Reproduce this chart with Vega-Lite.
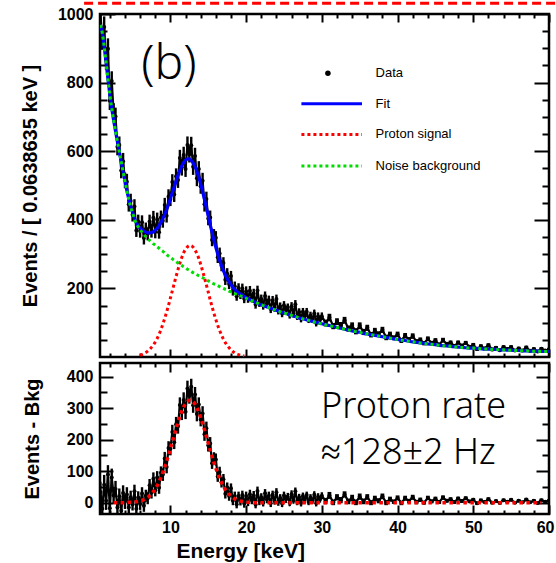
{
"$schema":"https://vega.github.io/schema/vega-lite/v6.json",
"padding":{"left":18,"top":0,"right":0,"bottom":0},
"spacing":0,
"datasets":{"h":[
{"e":0.75,"n":1002,"s":32,"d":34,"b":968,"g":0,"f":968},
{"e":1,"n":926,"s":30,"d":-19,"b":945,"g":0,"f":945},
{"e":1.25,"n":962,"s":31,"d":57,"b":905,"g":0,"f":905},
{"e":1.5,"n":866,"s":29,"d":6,"b":860,"g":0,"f":860},
{"e":1.75,"n":899,"s":30,"d":89,"b":810,"g":0,"f":810},
{"e":2,"n":747,"s":27,"d":-18,"b":765,"g":0,"f":765},
{"e":2.25,"n":805,"s":28,"d":80,"b":725,"g":0,"f":725},
{"e":2.5,"n":713,"s":27,"d":23,"b":690,"g":0,"f":690},
{"e":2.75,"n":701,"s":26,"d":43,"b":658,"g":0,"f":658},
{"e":3,"n":613,"s":25,"d":-15,"b":628,"g":0,"f":628},
{"e":3.25,"n":618,"s":25,"d":20,"b":598,"g":0,"f":598},
{"e":3.5,"n":544,"s":23,"d":-26,"b":570,"g":0,"f":570},
{"e":3.75,"n":571,"s":24,"d":31,"b":540,"g":0,"f":540},
{"e":4,"n":515,"s":23,"d":3,"b":512,"g":0,"f":512},
{"e":4.25,"n":511,"s":23,"d":26,"b":485,"g":0,"f":485},
{"e":4.5,"n":445,"s":21,"d":-15,"b":460,"g":1,"f":461},
{"e":4.75,"n":455,"s":21,"d":17,"b":438,"g":1,"f":439},
{"e":5,"n":415,"s":20,"d":-5,"b":420,"g":1,"f":421},
{"e":5.25,"n":439,"s":21,"d":36,"b":403,"g":2,"f":405},
{"e":5.5,"n":369,"s":19,"d":-19,"b":388,"g":3,"f":391},
{"e":5.75,"n":395,"s":20,"d":16,"b":379,"g":4,"f":383},
{"e":6,"n":367,"s":19,"d":-4,"b":371,"g":5,"f":376},
{"e":6.25,"n":393,"s":20,"d":29,"b":364,"g":7,"f":371},
{"e":6.5,"n":347,"s":19,"d":-10,"b":357,"g":10,"f":367},
{"e":6.75,"n":373,"s":19,"d":22,"b":351,"g":13,"f":364},
{"e":7,"n":359,"s":19,"d":14,"b":345,"g":17,"f":362},
{"e":7.25,"n":395,"s":20,"d":55,"b":340,"g":22,"f":362},
{"e":7.5,"n":367,"s":19,"d":32,"b":335,"g":28,"f":363},
{"e":7.75,"n":406,"s":20,"d":76,"b":330,"g":35,"f":365},
{"e":8,"n":365,"s":19,"d":39,"b":326,"g":44,"f":370},
{"e":8.25,"n":401,"s":20,"d":80,"b":321,"g":54,"f":375},
{"e":8.5,"n":364,"s":19,"d":47,"b":317,"g":66,"f":383},
{"e":8.75,"n":407,"s":20,"d":95,"b":312,"g":80,"f":392},
{"e":9,"n":397,"s":20,"d":89,"b":308,"g":96,"f":404},
{"e":9.25,"n":443,"s":21,"d":140,"b":303,"g":113,"f":416},
{"e":9.5,"n":412,"s":20,"d":113,"b":299,"g":131,"f":430},
{"e":9.75,"n":467,"s":22,"d":173,"b":294,"g":151,"f":445},
{"e":10,"n":461,"s":21,"d":171,"b":290,"g":172,"f":462},
{"e":10.25,"n":510,"s":23,"d":224,"b":286,"g":193,"f":479},
{"e":10.5,"n":474,"s":22,"d":192,"b":282,"g":214,"f":496},
{"e":10.75,"n":527,"s":23,"d":249,"b":278,"g":235,"f":513},
{"e":11,"n":516,"s":23,"d":242,"b":274,"g":255,"f":529},
{"e":11.25,"n":580,"s":24,"d":310,"b":270,"g":274,"f":544},
{"e":11.5,"n":553,"s":24,"d":286,"b":267,"g":290,"f":557},
{"e":11.75,"n":589,"s":24,"d":326,"b":263,"g":304,"f":567},
{"e":12,"n":548,"s":23,"d":288,"b":260,"g":314,"f":574},
{"e":12.25,"n":618,"s":25,"d":362,"b":256,"g":321,"f":577},
{"e":12.5,"n":591,"s":24,"d":338,"b":253,"g":325,"f":578},
{"e":12.75,"n":617,"s":25,"d":368,"b":249,"g":324,"f":573},
{"e":13,"n":555,"s":24,"d":309,"b":246,"g":320,"f":566},
{"e":13.25,"n":586,"s":24,"d":343,"b":243,"g":312,"f":555},
{"e":13.5,"n":521,"s":23,"d":281,"b":240,"g":301,"f":541},
{"e":13.75,"n":548,"s":23,"d":311,"b":237,"g":287,"f":524},
{"e":14,"n":498,"s":22,"d":264,"b":234,"g":270,"f":504},
{"e":14.25,"n":514,"s":23,"d":283,"b":231,"g":251,"f":482},
{"e":14.5,"n":445,"s":21,"d":217,"b":228,"g":231,"f":459},
{"e":14.75,"n":461,"s":21,"d":236,"b":225,"g":210,"f":435},
{"e":15,"n":404,"s":20,"d":182,"b":222,"g":189,"f":411},
{"e":15.25,"n":407,"s":20,"d":188,"b":219,"g":167,"f":386},
{"e":15.5,"n":341,"s":18,"d":125,"b":216,"g":147,"f":363},
{"e":15.75,"n":354,"s":19,"d":141,"b":213,"g":127,"f":340},
{"e":16,"n":348,"s":19,"d":137,"b":211,"g":109,"f":320},
{"e":16.25,"n":291,"s":17,"d":83,"b":208,"g":92,"f":300},
{"e":16.5,"n":302,"s":17,"d":97,"b":205,"g":77,"f":282},
{"e":16.75,"n":266,"s":16,"d":64,"b":202,"g":64,"f":266},
{"e":17,"n":274,"s":17,"d":74,"b":200,"g":52,"f":252},
{"e":17.25,"n":225,"s":15,"d":28,"b":197,"g":42,"f":239},
{"e":17.5,"n":243,"s":16,"d":48,"b":195,"g":34,"f":229},
{"e":17.75,"n":213,"s":15,"d":21,"b":192,"g":27,"f":219},
{"e":18,"n":236,"s":15,"d":46,"b":190,"g":21,"f":211},
{"e":18.25,"n":193,"s":14,"d":6,"b":187,"g":16,"f":203},
{"e":18.5,"n":206,"s":14,"d":21,"b":185,"g":12,"f":197},
{"e":18.75,"n":177,"s":13,"d":-5,"b":182,"g":9,"f":191},
{"e":19,"n":201,"s":14,"d":21,"b":180,"g":7,"f":187},
{"e":19.25,"n":182,"s":13,"d":4,"b":178,"g":5,"f":183},
{"e":19.5,"n":200,"s":14,"d":24,"b":176,"g":4,"f":180},
{"e":19.75,"n":170,"s":13,"d":-3,"b":173,"g":3,"f":176},
{"e":20,"n":192,"s":14,"d":21,"b":171,"g":2,"f":173},
{"e":20.25,"n":171,"s":13,"d":2,"b":169,"g":1,"f":170},
{"e":20.5,"n":193,"s":14,"d":27,"b":166,"g":1,"f":167},
{"e":20.75,"n":172,"s":13,"d":8,"b":164,"g":1,"f":165},
{"e":21,"n":185,"s":14,"d":23,"b":162,"g":0,"f":162},
{"e":21.25,"n":153,"s":12,"d":-6,"b":159,"g":0,"f":159},
{"e":21.5,"n":194,"s":14,"d":37,"b":157,"g":0,"f":157},
{"e":21.75,"n":159,"s":13,"d":5,"b":154,"g":0,"f":154},
{"e":22,"n":169,"s":13,"d":17,"b":152,"g":0,"f":152},
{"e":22.25,"n":150,"s":12,"d":0,"b":150,"g":0,"f":150},
{"e":22.5,"n":178,"s":13,"d":30,"b":148,"g":0,"f":148},
{"e":22.75,"n":156,"s":12,"d":10,"b":146,"g":0,"f":146},
{"e":23,"n":166,"s":13,"d":22,"b":144,"g":0,"f":144},
{"e":23.25,"n":140,"s":12,"d":-2,"b":142,"g":0,"f":142},
{"e":23.5,"n":165,"s":13,"d":25,"b":140,"g":0,"f":140},
{"e":23.75,"n":144,"s":12,"d":6,"b":138,"g":0,"f":138},
{"e":24,"n":169,"s":13,"d":33,"b":136,"g":0,"f":136},
{"e":24.25,"n":136,"s":12,"d":2,"b":134,"g":0,"f":134},
{"e":24.5,"n":147,"s":12,"d":15,"b":132,"g":0,"f":132},
{"e":24.75,"n":127,"s":11,"d":-3,"b":130,"g":0,"f":130},
{"e":25,"n":151,"s":12,"d":23,"b":128,"g":0,"f":128},
{"e":25.25,"n":138,"s":12,"d":11,"b":127,"g":0,"f":127},
{"e":25.5,"n":144,"s":12,"d":19,"b":125,"g":0,"f":125},
{"e":25.75,"n":123,"s":11,"d":0,"b":123,"g":0,"f":123},
{"e":26,"n":148,"s":12,"d":27,"b":121,"g":0,"f":121},
{"e":26.25,"n":127,"s":11,"d":8,"b":119,"g":0,"f":119},
{"e":26.5,"n":154,"s":12,"d":36,"b":118,"g":0,"f":118},
{"e":26.75,"n":119,"s":11,"d":3,"b":116,"g":0,"f":116},
{"e":27,"n":131,"s":11,"d":17,"b":114,"g":0,"f":114},
{"e":27.25,"n":112,"s":11,"d":-1,"b":113,"g":0,"f":113},
{"e":27.5,"n":132,"s":11,"d":21,"b":111,"g":0,"f":111},
{"e":27.75,"n":119,"s":11,"d":9,"b":110,"g":0,"f":110},
{"e":28,"n":132,"s":11,"d":24,"b":108,"g":0,"f":108},
{"e":28.25,"n":109,"s":10,"d":2,"b":107,"g":0,"f":107},
{"e":28.5,"n":121,"s":11,"d":16,"b":105,"g":0,"f":105},
{"e":28.75,"n":110,"s":10,"d":6,"b":104,"g":0,"f":104},
{"e":29,"n":127,"s":11,"d":25,"b":102,"g":0,"f":102},
{"e":29.25,"n":99,"s":10,"d":-2,"b":101,"g":0,"f":101},
{"e":29.5,"n":119,"s":11,"d":19,"b":100,"g":0,"f":100},
{"e":29.75,"n":108,"s":10,"d":10,"b":98,"g":0,"f":98},
{"e":30,"n":119,"s":11,"d":22,"b":97,"g":0,"f":97},
{"e":30.5,"n":99,"s":10,"d":5,"b":94,"g":0,"f":94},
{"e":31,"n":115,"s":11,"d":23,"b":92,"g":0,"f":92},
{"e":31.5,"n":90,"s":9,"d":1,"b":89,"g":0,"f":89},
{"e":32,"n":103,"s":10,"d":17,"b":86,"g":0,"f":86},
{"e":32.5,"n":92,"s":10,"d":8,"b":84,"g":0,"f":84},
{"e":33,"n":107,"s":10,"d":26,"b":81,"g":0,"f":81},
{"e":33.5,"n":83,"s":9,"d":4,"b":79,"g":0,"f":79},
{"e":34,"n":91,"s":10,"d":15,"b":76,"g":0,"f":76},
{"e":34.5,"n":75,"s":9,"d":1,"b":74,"g":0,"f":74},
{"e":35,"n":91,"s":10,"d":19,"b":72,"g":0,"f":72},
{"e":35.5,"n":73,"s":9,"d":4,"b":69,"g":0,"f":69},
{"e":36,"n":85,"s":9,"d":18,"b":67,"g":0,"f":67},
{"e":36.5,"n":65,"s":8,"d":0,"b":65,"g":0,"f":65},
{"e":37,"n":76,"s":9,"d":13,"b":63,"g":0,"f":63},
{"e":37.5,"n":67,"s":8,"d":6,"b":61,"g":0,"f":61},
{"e":38,"n":79,"s":9,"d":20,"b":59,"g":0,"f":59},
{"e":38.5,"n":57,"s":8,"d":0,"b":57,"g":0,"f":57},
{"e":39,"n":66,"s":8,"d":11,"b":55,"g":0,"f":55},
{"e":39.5,"n":56,"s":7,"d":3,"b":53,"g":0,"f":53},
{"e":40,"n":66,"s":8,"d":15,"b":51,"g":0,"f":51},
{"e":40.5,"n":48,"s":7,"d":-1,"b":49,"g":0,"f":49},
{"e":41,"n":62,"s":8,"d":14,"b":48,"g":0,"f":48},
{"e":41.5,"n":51,"s":7,"d":5,"b":46,"g":0,"f":46},
{"e":42,"n":61,"s":8,"d":17,"b":44,"g":0,"f":44},
{"e":42.5,"n":45,"s":7,"d":2,"b":43,"g":0,"f":43},
{"e":43,"n":50,"s":7,"d":9,"b":41,"g":0,"f":41},
{"e":43.5,"n":40,"s":6,"d":0,"b":40,"g":0,"f":40},
{"e":44,"n":53,"s":7,"d":15,"b":38,"g":0,"f":38},
{"e":44.5,"n":41,"s":6,"d":4,"b":37,"g":0,"f":37},
{"e":45,"n":48,"s":7,"d":12,"b":36,"g":0,"f":36},
{"e":45.5,"n":36,"s":6,"d":2,"b":34,"g":0,"f":34},
{"e":46,"n":49,"s":7,"d":16,"b":33,"g":0,"f":33},
{"e":46.5,"n":38,"s":6,"d":6,"b":32,"g":0,"f":32},
{"e":47,"n":42,"s":6,"d":11,"b":31,"g":0,"f":31},
{"e":47.5,"n":32,"s":6,"d":2,"b":30,"g":0,"f":30},
{"e":48,"n":42,"s":6,"d":13,"b":29,"g":0,"f":29},
{"e":48.5,"n":33,"s":6,"d":5,"b":28,"g":0,"f":28},
{"e":49,"n":41,"s":6,"d":14,"b":27,"g":0,"f":27},
{"e":49.5,"n":30,"s":5,"d":4,"b":26,"g":0,"f":26},
{"e":50,"n":35,"s":6,"d":9,"b":26,"g":0,"f":26},
{"e":50.5,"n":23,"s":5,"d":-2,"b":25,"g":0,"f":25},
{"e":51,"n":31,"s":6,"d":7,"b":24,"g":0,"f":24},
{"e":51.5,"n":25,"s":5,"d":2,"b":23,"g":0,"f":23},
{"e":52,"n":34,"s":6,"d":11,"b":23,"g":0,"f":23},
{"e":52.5,"n":22,"s":5,"d":0,"b":22,"g":0,"f":22},
{"e":53,"n":27,"s":5,"d":5,"b":22,"g":0,"f":22},
{"e":53.5,"n":20,"s":4,"d":-1,"b":21,"g":0,"f":21},
{"e":54,"n":29,"s":5,"d":8,"b":21,"g":0,"f":21},
{"e":54.5,"n":23,"s":5,"d":3,"b":20,"g":0,"f":20},
{"e":55,"n":29,"s":5,"d":9,"b":20,"g":0,"f":20},
{"e":55.5,"n":19,"s":4,"d":0,"b":19,"g":0,"f":19},
{"e":56,"n":25,"s":5,"d":6,"b":19,"g":0,"f":19},
{"e":56.5,"n":19,"s":4,"d":1,"b":18,"g":0,"f":18},
{"e":57,"n":28,"s":5,"d":10,"b":18,"g":0,"f":18},
{"e":57.5,"n":18,"s":4,"d":1,"b":17,"g":0,"f":17},
{"e":58,"n":23,"s":5,"d":6,"b":17,"g":0,"f":17},
{"e":58.5,"n":16,"s":4,"d":-1,"b":17,"g":0,"f":17},
{"e":59,"n":24,"s":5,"d":8,"b":16,"g":0,"f":16},
{"e":59.5,"n":19,"s":4,"d":3,"b":16,"g":0,"f":16},
{"e":60,"n":22,"s":5,"d":6,"b":16,"g":0,"f":16}
]},
"vconcat":[
{
"width":449,"height":343,
"data":{"name":"h"},
"resolve":{"axis":{"x":"independent","y":"independent"}},
"layer":[
{"mark":{"type":"point","opacity":0},"encoding":{
"x":{"field":"e","type":"quantitative","scale":{"domain":[0.7,60],"nice":false,"zero":false},"axis":{"orient":"bottom","values":[10,20,30,40,50,60],"tickSize":-8,"labels":false,"title":null}},
"y":{"field":"n","type":"quantitative","scale":{"domain":[0,1000],"nice":false,"zero":false},"axis":{"orient":"left","values":[200,400,600,800,1000],"format":"d","ticks":false,"labelPadding":7,"title":"Events / [ 0.0638635 keV ]","titleX":-70,"titleBaseline":"middle"}}}},
{"mark":{"type":"point","opacity":0},"encoding":{
"x":{"field":"e","type":"quantitative","axis":{"orient":"bottom","values":[2,4,6,8,12,14,16,18,22,24,26,28,32,34,36,38,42,44,46,48,52,54,56,58],"tickSize":-4,"labels":false,"title":null}},
"y":{"field":"n","type":"quantitative","axis":{"orient":"left","values":[200,400,600,800,1000],"tickSize":-15,"labels":false,"title":null}}}},
{"mark":{"type":"point","opacity":0},"encoding":{
"x":{"field":"e","type":"quantitative","axis":{"orient":"top","values":[10,20,30,40,50,60],"tickSize":-8,"labels":false,"title":null}},
"y":{"field":"n","type":"quantitative","axis":{"orient":"left","values":[50,100,150,250,300,350,450,500,550,650,700,750,850,900,950],"tickSize":-7,"labels":false,"title":null}}}},
{"mark":{"type":"point","opacity":0},"encoding":{
"x":{"field":"e","type":"quantitative","axis":{"orient":"top","values":[2,4,6,8,12,14,16,18,22,24,26,28,32,34,36,38,42,44,46,48,52,54,56,58],"tickSize":-4,"labels":false,"title":null}},
"y":{"field":"n","type":"quantitative","axis":{"orient":"right","values":[200,400,600,800,1000],"tickSize":-15,"labels":false,"title":null}}}},
{"mark":{"type":"point","opacity":0},"encoding":{
"x":{"field":"e","type":"quantitative","axis":null},
"y":{"field":"n","type":"quantitative","axis":{"orient":"right","values":[50,100,150,250,300,350,450,500,550,650,700,750,850,900,950],"tickSize":-7,"labels":false,"title":null}}}},
{"transform":[{"filter":"datum.e <= 30"}],"mark":{"type":"errorbar","color":"black","thickness":2.4,"clip":true},"encoding":{
"x":{"field":"e","type":"quantitative","axis":null},
"y":{"field":"n","type":"quantitative","axis":null},
"yError":{"field":"s"}}},
{"transform":[{"filter":"datum.e > 30"}],"mark":{"type":"errorbar","color":"black","thickness":3.8,"clip":true},"encoding":{
"x":{"field":"e","type":"quantitative","axis":null},
"y":{"field":"n","type":"quantitative","axis":null},
"yError":{"field":"s"}}},
{"mark":{"type":"line","color":"black","strokeWidth":2.2,"clip":true},"encoding":{
"x":{"field":"e","type":"quantitative","axis":null},
"y":{"field":"n","type":"quantitative","axis":null}}},
{"mark":{"type":"point","filled":true,"color":"black","opacity":1,"size":16,"clip":true},"encoding":{
"x":{"field":"e","type":"quantitative","axis":null},
"y":{"field":"n","type":"quantitative","axis":null}}},
{"mark":{"type":"line","color":"#0000ff","strokeWidth":3.2,"interpolate":"monotone","clip":true},"encoding":{
"x":{"field":"e","type":"quantitative","axis":null},
"y":{"field":"f","type":"quantitative","axis":null}}},
{"transform":[{"filter":{"field":"e","range":[6,19.75]}}],
"mark":{"type":"line","color":"#ff0000","strokeWidth":3,"strokeDash":[3,3],"interpolate":"monotone","clip":true},"encoding":{
"x":{"field":"e","type":"quantitative","axis":null},
"y":{"field":"g","type":"quantitative","axis":null}}},
{"mark":{"type":"line","color":"#00dd00","strokeWidth":3,"strokeDash":[3,3],"interpolate":"monotone","clip":true},"encoding":{
"x":{"field":"e","type":"quantitative","axis":null},
"y":{"field":"b","type":"quantitative","axis":null}}},
{"data":{"values":[{}]},"mark":{"type":"rule","color":"#ff0000","strokeWidth":3,"strokeDash":[9,5],"clip":false},"encoding":{
"x":{"datum":-1.4,"type":"quantitative","axis":null},"x2":{"datum":62},
"y":{"datum":1031,"type":"quantitative","axis":null}}},
{"data":{"values":[{}]},"mark":{"type":"text","text":"(b)","font":"Noto Sans","fontSize":48,"fontWeight":300,"align":"center","baseline":"alphabetic","color":"black"},"encoding":{
"x":{"datum":9.8,"type":"quantitative","axis":null},
"y":{"datum":811,"type":"quantitative","axis":null}}},
{"data":{"values":[{}]},"mark":{"type":"point","filled":true,"color":"black","opacity":1,"size":30},"encoding":{
"x":{"datum":30.8,"type":"quantitative","axis":null},
"y":{"datum":827,"type":"quantitative","axis":null}}},
{"data":{"values":[{}]},"mark":{"type":"rule","color":"#0000ff","strokeWidth":3},"encoding":{
"x":{"datum":27.3,"type":"quantitative","axis":null},"x2":{"datum":35.3},
"y":{"datum":738,"type":"quantitative","axis":null}}},
{"data":{"values":[{}]},"mark":{"type":"rule","color":"#ff0000","strokeWidth":3,"strokeDash":[3,3]},"encoding":{
"x":{"datum":27.3,"type":"quantitative","axis":null},"x2":{"datum":35.3},
"y":{"datum":649,"type":"quantitative","axis":null}}},
{"data":{"values":[{}]},"mark":{"type":"rule","color":"#00dd00","strokeWidth":3,"strokeDash":[3,3]},"encoding":{
"x":{"datum":27.3,"type":"quantitative","axis":null},"x2":{"datum":35.3},
"y":{"datum":557,"type":"quantitative","axis":null}}},
{"data":{"values":[{"t":"Data","v":827},{"t":"Fit","v":738},{"t":"Proton signal","v":649},{"t":"Noise background","v":557}]},
"mark":{"type":"text","font":"Liberation Sans","fontSize":13,"align":"left","baseline":"middle","color":"black"},"encoding":{
"text":{"field":"t"},
"x":{"datum":37.1,"type":"quantitative","axis":null},
"y":{"field":"v","type":"quantitative","axis":null}}}
]
},
{
"width":449,"height":151,
"data":{"name":"h"},
"resolve":{"axis":{"x":"independent","y":"independent"}},
"layer":[
{"mark":{"type":"point","opacity":0},"encoding":{
"x":{"field":"e","type":"quantitative","scale":{"domain":[0.7,60],"nice":false,"zero":false},"axis":{"orient":"bottom","values":[10,20,30,40,50,60],"ticks":false,"labelPadding":5,"labelFlush":3,"labelFlushOffset":5,"title":"Energy [keV]","titleFontSize":21,"titleX":76,"titleY":43,"titleAlign":"left","titleBaseline":"alphabetic"}},
"y":{"field":"d","type":"quantitative","scale":{"domain":[-36,443],"nice":false,"zero":false},"axis":{"orient":"left","values":[0,100,200,300,400],"ticks":false,"labelPadding":7,"title":"Events - Bkg","titleX":-68,"titleBaseline":"middle"}}}},
{"mark":{"type":"point","opacity":0},"encoding":{
"x":{"field":"e","type":"quantitative","axis":{"orient":"bottom","values":[10,20,30,40,50,60],"tickSize":-9,"labels":false,"title":null}},
"y":{"field":"d","type":"quantitative","axis":{"orient":"left","values":[0,100,200,300,400],"tickSize":-13,"labels":false,"title":null}}}},
{"mark":{"type":"point","opacity":0},"encoding":{
"x":{"field":"e","type":"quantitative","axis":{"orient":"bottom","values":[2,4,6,8,12,14,16,18,22,24,26,28,32,34,36,38,42,44,46,48,52,54,56,58],"tickSize":-4,"labels":false,"title":null}},
"y":{"field":"d","type":"quantitative","axis":{"orient":"left","values":[50,150,250,350],"tickSize":-7,"labels":false,"title":null}}}},
{"mark":{"type":"point","opacity":0},"encoding":{
"x":{"field":"e","type":"quantitative","axis":{"orient":"top","values":[10,20,30,40,50,60],"tickSize":-9,"labels":false,"title":null}},
"y":{"field":"d","type":"quantitative","axis":{"orient":"right","values":[0,100,200,300,400],"tickSize":-13,"labels":false,"title":null}}}},
{"mark":{"type":"point","opacity":0},"encoding":{
"x":{"field":"e","type":"quantitative","axis":{"orient":"top","values":[2,4,6,8,12,14,16,18,22,24,26,28,32,34,36,38,42,44,46,48,52,54,56,58],"tickSize":-4,"labels":false,"title":null}},
"y":{"field":"d","type":"quantitative","axis":{"orient":"right","values":[50,150,250,350],"tickSize":-7,"labels":false,"title":null}}}},
{"transform":[{"filter":"datum.e <= 30"}],"mark":{"type":"errorbar","color":"black","thickness":2.4,"clip":true},"encoding":{
"x":{"field":"e","type":"quantitative","axis":null},
"y":{"field":"d","type":"quantitative","axis":null},
"yError":{"field":"s"}}},
{"transform":[{"filter":"datum.e > 30"}],"mark":{"type":"errorbar","color":"black","thickness":3.8,"clip":true},"encoding":{
"x":{"field":"e","type":"quantitative","axis":null},
"y":{"field":"d","type":"quantitative","axis":null},
"yError":{"field":"s"}}},
{"mark":{"type":"line","color":"black","strokeWidth":2.2,"clip":true},"encoding":{
"x":{"field":"e","type":"quantitative","axis":null},
"y":{"field":"d","type":"quantitative","axis":null}}},
{"mark":{"type":"point","filled":true,"color":"black","opacity":1,"size":16,"clip":true},"encoding":{
"x":{"field":"e","type":"quantitative","axis":null},
"y":{"field":"d","type":"quantitative","axis":null}}},
{"transform":[{"filter":{"field":"e","range":[2.4,59.2]}}],
"mark":{"type":"line","color":"#ff0000","strokeWidth":3.5,"strokeDash":[3.5,3.5],"interpolate":"monotone","clip":true},"encoding":{
"x":{"field":"e","type":"quantitative","axis":null},
"y":{"field":"g","type":"quantitative","axis":null}}},
{"data":{"values":[{"t":"Proton rate","v":269},{"t":"≈128±2 Hz","v":123}]},
"mark":{"type":"text","font":"Noto Sans","fontSize":36,"fontWeight":300,"align":"left","baseline":"alphabetic","color":"black"},"encoding":{
"text":{"field":"t"},
"x":{"datum":29.9,"type":"quantitative","axis":null},
"y":{"field":"v","type":"quantitative","axis":null}}}
]
}
],
"config":{
"view":{"stroke":"black","strokeWidth":2.5},
"axis":{"grid":false,"domain":false,"tickColor":"black","tickWidth":2,"labelColor":"black","labelFont":"Liberation Sans","labelFontSize":16,"labelFontWeight":"bold","labelFlush":false,"labelOverlap":false,"titleFont":"Liberation Sans","titleFontSize":20,"titleFontWeight":"bold","titleColor":"black","minExtent":0,"zindex":1},
"axisY":{"minExtent":0},
"axisX":{"minExtent":0}
}
}
